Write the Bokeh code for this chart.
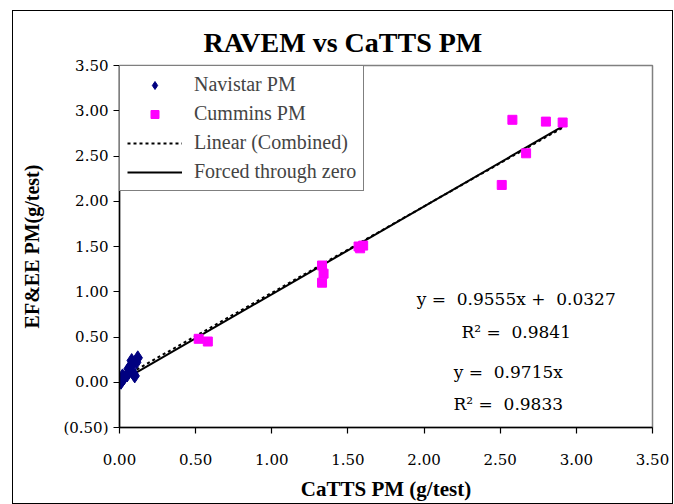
from bokeh.plotting import figure
from bokeh.models import FixedTicker, Label, Legend, LegendItem, Range1d
from bokeh.embed import file_html
from bokeh.resources import INLINE

# ---- data ----
navistar_x = [0.01, 0.02, 0.02, 0.03, 0.05, 0.06, 0.07, 0.08, 0.09, 0.10, 0.11, 0.12]
navistar_y = [0.00, 0.03, 0.07, 0.05, 0.08, 0.15, 0.17, 0.24, 0.10, 0.07, 0.22, 0.27]

cummins_x = [0.52, 0.58, 1.33, 1.34, 1.33, 1.57, 1.58, 1.60, 2.51, 2.58, 2.67, 2.80, 2.91]
cummins_y = [0.48, 0.45, 1.29, 1.20, 1.10, 1.50, 1.48, 1.51, 2.18, 2.90, 2.53, 2.88, 2.87]

trend_x = [0.01, 2.91]
linear_slope, linear_intercept = 0.9555, 0.0327
forced_slope = 0.9715

x_ticks = [0.0, 0.5, 1.0, 1.5, 2.0, 2.5, 3.0, 3.5]
x_tick_labels = ["0.00", "0.50", "1.00", "1.50", "2.00", "2.50", "3.00", "3.50"]
y_ticks = [-0.5, 0.0, 0.5, 1.0, 1.5, 2.0, 2.5, 3.0, 3.5]
y_tick_labels = ["(0.50)", "0.00", "0.50", "1.00", "1.50", "2.00", "2.50", "3.00", "3.50"]

linear_y = [linear_slope * x + linear_intercept for x in trend_x]
forced_y = [forced_slope * x for x in trend_x]

SERIF = "Liberation Serif"
NUM = "DejaVu Serif"
NB = "\u00a0"

p = figure(width=661, height=494, output_backend="svg", toolbar_location=None,
           x_range=Range1d(0, 3.5), y_range=Range1d(-0.5, 3.5),
           min_border_left=106, min_border_right=22, min_border_top=54, min_border_bottom=78,
           title="RAVEM vs CaTTS PM")
p.styles = {"border": "1px solid #000000", "box-sizing": "border-box",
            "margin-left": "12px", "margin-top": "10px"}

p.title.text_font = SERIF
p.title.text_font_size = "28px"
p.title.text_font_style = "bold"
p.title.text_color = "black"
p.title.align = "left"
p.title.offset = 84
p.title.vertical_align = "top"
p.title.standoff = 11

p.grid.visible = False
p.outline_line_color = "#808080"
p.outline_line_width = 1.5
p.background_fill_color = "white"
p.border_fill_color = "white"

for ax, ticks, labels in ((p.xaxis[0], x_ticks, x_tick_labels), (p.yaxis[0], y_ticks, y_tick_labels)):
    ax.ticker = FixedTicker(ticks=ticks)
    ax.major_label_overrides = {t: l for t, l in zip(ticks, labels)}
    ax.major_label_text_font = NUM
    ax.major_label_text_font_size = "15px"
    ax.major_label_text_color = "black"
    ax.axis_line_color = "black"
    ax.axis_line_width = 1.5
    ax.major_tick_line_color = "black"
    ax.major_tick_line_width = 1.2
    ax.major_tick_out = 6
    ax.major_tick_in = 0
    ax.minor_tick_line_color = None
    ax.axis_label_text_font = SERIF
    ax.axis_label_text_font_style = "bold"
    ax.axis_label_text_color = "black"

p.xaxis.axis_label = "CaTTS PM (g/test)"
p.xaxis.axis_label_text_font_size = "21px"
p.xaxis.major_label_standoff = 20
p.xaxis.axis_label_standoff = 9
p.yaxis.axis_label = "EF&EE PM(g/test)"
p.yaxis.axis_label_text_font_size = "20px"
p.yaxis.major_label_standoff = 5
p.yaxis.axis_label_standoff = 17

r_lin = p.line(trend_x, linear_y, line_color="black", line_width=2, line_dash="3 3")
r_forced = p.line(trend_x, forced_y, line_color="black", line_width=2)
r_nav = p.scatter(navistar_x, navistar_y, marker="diamond", size=14,
                  fill_color="#000080", line_color="#000080")
r_cum = p.scatter(cummins_x, cummins_y, marker="square", size=9,
                  fill_color="#FF00FF", line_color="#FF00FF")

legend = Legend(items=[
    LegendItem(label="Navistar PM", renderers=[r_nav]),
    LegendItem(label="Cummins PM", renderers=[r_cum]),
    LegendItem(label="Linear (Combined)", renderers=[r_lin]),
    LegendItem(label="Forced through zero", renderers=[r_forced]),
], location="top_left")
legend.margin = 0
legend.padding = 7
legend.spacing = 6
legend.glyph_width = 55
legend.glyph_height = 20
legend.label_height = 20
legend.label_standoff = 12
legend.label_text_font = SERIF
legend.label_text_font_size = "20px"
legend.border_line_color = "black"
legend.border_line_width = 1
legend.background_fill_alpha = 1
p.add_layout(legend)

eq_font = NUM
for txt, x, y in (("y =" + NB + " 0.9555x +" + NB + " 0.0327", 2.605, 0.915),
                  ("R² =" + NB + " 0.9841", 2.605, 0.56),
                  ("y =" + NB + " 0.9715x", 2.553, 0.11),
                  ("R² =" + NB + " 0.9833", 2.553, -0.235)):
    p.add_layout(Label(x=x, y=y, text=txt, text_font=eq_font, text_font_size="17px",
                       text_align="center", text_baseline="middle", text_color="black"))

open("out.html", "w").write(file_html(p, INLINE))
